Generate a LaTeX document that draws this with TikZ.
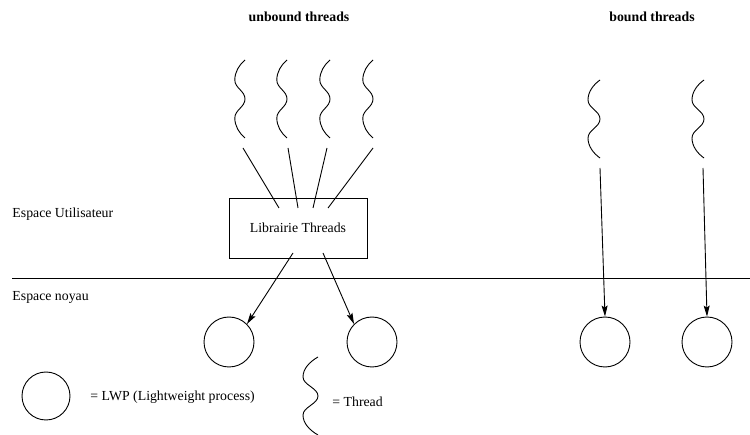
\documentclass[tikz,border=0pt]{standalone}
\usepackage{fontspec}
\setmainfont{Liberation Serif}
\usetikzlibrary{arrows.meta}

% a user thread drawn as a wavy stroke, origin at its top end
\tikzset{
  thread/.pic={
    \draw (0,0) .. controls (-7,5) and (-12,12) .. (-12,20)
      .. controls (-12,28) and (0,31) .. (0,39)
      .. controls (0,47) and (-12,50) .. (-12,58)
      .. controls (-12,66) and (-7,73) .. (0,78);
  }
}

\begin{document}
\begin{tikzpicture}[x=1pt, y=-1pt, line width=0.9pt,
  font=\fontsize{13.8}{16}\selectfont,
  lwp/.style={circle, draw, minimum size=50pt, inner sep=0pt},
  fleche/.style={-{Stealth[length=11pt, width=6pt, inset=2pt]}}]
\useasboundingbox (0,0) rectangle (750,435);

% titres
\node[font=\fontsize{13.8}{16}\selectfont\bfseries] (tunb) at (299,17) {unbound threads};
\node[font=\fontsize{13.8}{16}\selectfont\bfseries] (tb) at (652,17) {bound threads};

% espaces
\node[anchor=west, inner sep=0pt] (eu) at (12,214) {Espace Utilisateur};
\node[anchor=west, inner sep=0pt] (en) at (12,297) {Espace noyau};
\draw (12,278) -- (750,278);

% threads non lies et librairie
\pic[xscale=0.85] at (245,60) {thread};
\pic[xscale=0.85] at (287,60) {thread};
\pic[xscale=0.85] at (330,60) {thread};
\pic[xscale=0.85] at (373,60) {thread};
\node[draw, minimum width=138pt, minimum height=60pt] (lib) at (298,228) {Librairie Threads};

\coordinate (u1) at (243,148); \coordinate (l1) at (279,208);
\coordinate (u2) at (288,148); \coordinate (l2) at (298,208);
\coordinate (u3) at (327,148); \coordinate (l3) at (313,208);
\coordinate (u4) at (373,148); \coordinate (l4) at (328,208);
\foreach \i in {1,...,4}
  \draw (u\i) -- (l\i);

% LWP du noyau
\node[lwp] (k1) at (229,342) {};
\node[lwp] (k2) at (372,342) {};
\node[lwp] (k3) at (605,342) {};
\node[lwp] (k4) at (707,342) {};

\coordinate (s1) at (293,253);
\coordinate (s2) at (323,253);
\draw[fleche] (s1) -- (k1.north east);
\draw[fleche] (s2) -- (k2.north west);

% threads lies
\pic at (600,80) {thread};
\pic at (704,80) {thread};
\coordinate (b1) at (600,168);
\coordinate (b2) at (703,168);
\draw[fleche] (b1) -- (k3.north);
\draw[fleche] (b2) -- (k4.north);

% legende
\node[lwp, minimum size=48pt] (leg) at (46,396) {};
\node[anchor=west, inner sep=0pt] (legt) at (90,397) {= LWP (Lightweight process)};
\pic[xscale=1.25] at (318,357) {thread};
\node[anchor=west, inner sep=0pt] (legth) at (332,402) {= Thread};
\end{tikzpicture}
\end{document}
